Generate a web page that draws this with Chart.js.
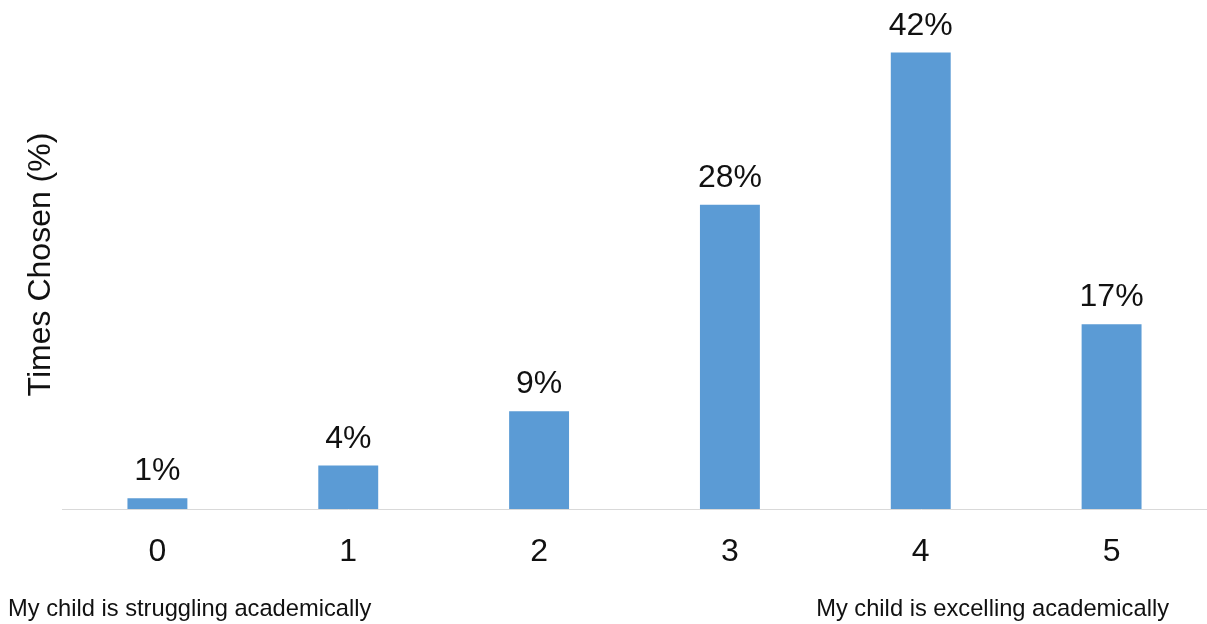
<!DOCTYPE html>
<html lang="en">
<head>
  <meta charset="UTF-8" />
  <title>Times Chosen</title>
  <script src="https://cdn.jsdelivr.net/npm/chart.js"></script>
  <style>
    * { box-sizing: border-box; }
    body {
      margin: 0;
      background: #ffffff;
    }
    .wrap {
      width: 1207px;
      height: 624px;
      position: relative;
    }
  </style>
</head>
<body>
  <div class="wrap">
    <canvas id="chosen"></canvas>
  </div>

  <script>
    const categories = ['0', '1', '2', '3', '4', '5'];
    const timesChosen = [1, 4, 9, 28, 42, 17];
    const yMax = 45;
    const scaleEnds = ['My child is struggling academically', 'My child is excelling academically'];

    const FONT = "'Liberation Sans', Arial, sans-serif";
    const TEXT = '#111111';

    // percentage written above each bar
    const valueLabels = {
      id: 'valueLabels',
      afterDatasetsDraw(chart) {
        const ctx = chart.ctx;
        const meta = chart.getDatasetMeta(0);
        ctx.save();
        ctx.font = '32px ' + FONT;
        ctx.fillStyle = TEXT;
        ctx.textAlign = 'center';
        ctx.textBaseline = 'alphabetic';
        meta.data.forEach((bar, i) => {
          ctx.fillText(timesChosen[i] + '%', bar.x, bar.y - 18);
        });
        ctx.restore();
      }
    };

    // notes under the two ends of the scale
    const scaleEndNotes = {
      id: 'scaleEndNotes',
      afterDraw(chart) {
        const ctx = chart.ctx;
        ctx.save();
        ctx.font = '23.7px ' + FONT;
        ctx.fillStyle = TEXT;
        ctx.textBaseline = 'alphabetic';
        ctx.textAlign = 'left';
        ctx.fillText(scaleEnds[0], 8, 616);
        ctx.textAlign = 'right';
        ctx.fillText(scaleEnds[1], chart.width - 38, 616);
        ctx.restore();
      }
    };

    new Chart(document.getElementById('chosen'), {
      type: 'bar',
      data: {
        labels: categories,
        datasets: [{
          data: timesChosen,
          backgroundColor: '#5b9bd5',
          borderWidth: 0,
          categoryPercentage: 1,
          barPercentage: 0.314
        }]
      },
      options: {
        responsive: true,
        maintainAspectRatio: false,
        animation: false,
        layout: { padding: { top: 20, left: 0, right: 0, bottom: 0 } },
        plugins: {
          legend: { display: false },
          tooltip: { enabled: false }
        },
        scales: {
          x: {
            grid: { display: false, drawTicks: false },
            border: { display: true, color: '#d9d9d9', width: 1 },
            ticks: {
              color: TEXT,
              padding: 24,
              font: { family: FONT, size: 32 }
            },
            afterFit: (scale) => { scale.height = 115; }
          },
          y: {
            min: 0,
            max: yMax,
            grid: { display: false, drawTicks: false },
            border: { display: false },
            ticks: { display: false },
            title: {
              display: true,
              text: 'Times Chosen (%)',
              color: TEXT,
              padding: { top: 22, bottom: 0 },
              font: { family: FONT, size: 32 }
            },
            afterFit: (scale) => { scale.width = 62; }
          }
        }
      },
      plugins: [valueLabels, scaleEndNotes]
    });
  </script>
</body>
</html>
